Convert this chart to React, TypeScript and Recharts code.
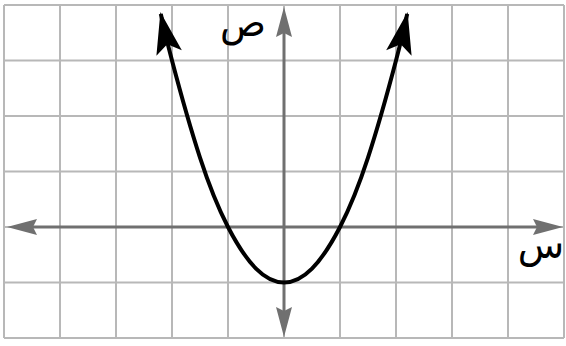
import React from 'react';
import { LineChart, Line, XAxis, YAxis, CartesianGrid, ReferenceLine } from 'recharts';

// grid ticks (one cell per unit)
const xTicks = [-5, -4, -3, -2, -1, 0, 1, 2, 3, 4, 5];
const yTicks = [-2, -1, 0, 1, 2, 3, 4];

// points along the parabola, tip to tip
const curveX = [-2.2, -2, -1.5, -1, -0.5, 0, 0.5, 1, 1.5, 2, 2.2];
const curveY = [3.84, 3, 1.25, 0, -0.75, -1, -0.75, 0, 1.25, 3, 3.84];

// axis names
const xAxisName = 'س';
const yAxisName = 'ص';

const curveData = curveX.map((x, i) => ({ x, y: curveY[i] }));

const X_DOMAIN: [number, number] = [-5, 5];
const Y_DOMAIN: [number, number] = [-2, 4];

const AXIS_COLOR = '#707070';
const GRID_COLOR = '#b8b8b8';
const LABEL_FONT = '"DejaVu Sans", sans-serif';

// grid lines go through every unit tick, using the axis scale when it is there
const verticalLines = ({ xAxis, offset }: any) =>
  xTicks.map((t) =>
    xAxis && typeof xAxis.scale === 'function'
      ? xAxis.scale(t)
      : offset.left + (offset.width * (t - X_DOMAIN[0])) / (X_DOMAIN[1] - X_DOMAIN[0])
  );

const horizontalLines = ({ yAxis, offset }: any) =>
  yTicks.map((t) =>
    yAxis && typeof yAxis.scale === 'function'
      ? yAxis.scale(t)
      : offset.top + (offset.height * (Y_DOMAIN[1] - t)) / (Y_DOMAIN[1] - Y_DOMAIN[0])
  );

const HorizontalAxis = (props: any) => {
  const { x1, x2, y1 } = props;
  const left = Math.min(x1, x2) + 3;
  const right = Math.max(x1, x2) - 1;
  const y = y1;
  return (
    <g>
      <line x1={left + 20} y1={y} x2={right - 20} y2={y} stroke={AXIS_COLOR} strokeWidth={3} />
      <polygon points={`${left},${y} ${left + 30},${y - 8} ${left + 26},${y} ${left + 30},${y + 8}`} fill={AXIS_COLOR} />
      <polygon points={`${right},${y} ${right - 30},${y - 8} ${right - 26},${y} ${right - 30},${y + 8}`} fill={AXIS_COLOR} />
      <text x={right - 22} y={y + 31} textAnchor="middle" fontSize={38} fontFamily={LABEL_FONT} fill="#000">
        {xAxisName}
      </text>
    </g>
  );
};

const VerticalAxis = (props: any) => {
  const { x1, y1, y2 } = props;
  const top = Math.min(y1, y2) + 2;
  const bottom = Math.max(y1, y2) - 1;
  const x = x1;
  return (
    <g>
      <line x1={x} y1={top + 20} x2={x} y2={bottom - 20} stroke={AXIS_COLOR} strokeWidth={3} />
      <polygon points={`${x},${top} ${x - 8},${top + 30} ${x},${top + 26} ${x + 8},${top + 30}`} fill={AXIS_COLOR} />
      <polygon points={`${x},${bottom} ${x - 8},${bottom - 30} ${x},${bottom - 26} ${x + 8},${bottom - 30}`} fill={AXIS_COLOR} />
      <text x={x - 41} y={top + 29} textAnchor="middle" fontSize={38} fontFamily={LABEL_FONT} fill="#000">
        {yAxisName}
      </text>
    </g>
  );
};

export default function App() {
  return (
    <div style={{ position: 'absolute', left: 0, top: 0, width: 566, height: 346, background: '#fff' }}>
      <LineChart width={566} height={346} data={curveData} margin={{ top: 5, right: 2, bottom: 8, left: 4 }}>
        <defs>
          <marker id="curveArrow" viewBox="-44 -16 48 32" refX={2} refY={0} markerWidth={48} markerHeight={32}
            markerUnits="userSpaceOnUse" orient="auto-start-reverse">
            <path d="M4,0 L-38,-13 L-29,0 L-38,13 Z" fill="#000" />
          </marker>
        </defs>
        <CartesianGrid
          stroke={GRID_COLOR}
          strokeWidth={2}
          verticalCoordinatesGenerator={verticalLines}
          horizontalCoordinatesGenerator={horizontalLines}
        />
        <XAxis type="number" dataKey="x" domain={X_DOMAIN} ticks={xTicks} tick={false} axisLine={false} tickLine={false} height={0} />
        <YAxis type="number" domain={Y_DOMAIN} ticks={yTicks} tick={false} axisLine={false} tickLine={false} width={0} />
        <ReferenceLine y={0} shape={HorizontalAxis} />
        <ReferenceLine x={0} shape={VerticalAxis} />
        <Line
          dataKey="y"
          type="natural"
          stroke="#000"
          strokeWidth={4}
          dot={false}
          activeDot={false}
          markerStart="url(#curveArrow)"
          markerEnd="url(#curveArrow)"
          isAnimationActive={false}
        />
      </LineChart>
    </div>
  );
}
